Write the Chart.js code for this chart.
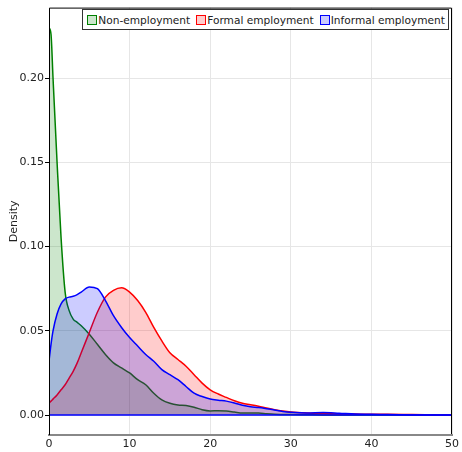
<!DOCTYPE html>
<html>
<head>
<meta charset="utf-8">
<script src="https://cdn.jsdelivr.net/npm/chart.js@4/dist/chart.umd.min.js"></script>
<style>
  html, body { margin: 0; padding: 0; background: #fff; }
  #wrap { position: relative; width: 462px; height: 452px; }
  #legend {
    position: absolute; top: 9px; right: 13px; height: 19px;
    display: flex; align-items: center; padding: 0 3px 0 4px;
    border: 1.5px solid #333; background: #fff;
    font: 10.6px 'DejaVu Sans', sans-serif; color: #222; white-space: nowrap;
  }
  .item { display: flex; align-items: center; margin-right: 6px; }
  .item:last-child { margin-right: 0; }
  .swatch { width: 8px; height: 8px; border: 1.5px solid; margin-right: 1px; }
</style>
</head>
<body>
<div id="wrap">
  <canvas id="densityChart" width="462" height="452"></canvas>
  <div id="legend"></div>
</div>
<script>
// data
var xGrid = [0, 0.25, 0.5, 1, 1.5, 2, 2.5, 3, 3.5, 4, 5, 6, 7, 8, 9, 10, 11, 12, 13, 14, 15, 16, 17, 18, 19, 20,
             21, 22, 23, 24, 25, 26, 27, 28, 29, 30, 32, 34, 36, 38, 40, 42, 45, 50];
var nonEmployment = [0.230, 0.226, 0.200, 0.150, 0.105, 0.073, 0.062, 0.057, 0.055, 0.053, 0.048, 0.042, 0.036, 0.031, 0.028, 0.025,
                     0.021, 0.018, 0.013, 0.009, 0.007, 0.006, 0.0057, 0.0047, 0.0032, 0.0025,
                     0.0026, 0.0024, 0.0018, 0.0012, 0.0012, 0.0012, 0.0008, 0.0005, 0.0004, 0.0003, 0.0002, 0.0001, 0.0001, 0.0001, 0, 0, 0, 0];
var formalEmployment = [0.007, 0.0083, 0.0095, 0.012, 0.015, 0.018, 0.022, 0.026, 0.031, 0.037, 0.049, 0.061, 0.070, 0.074, 0.0755, 0.073,
                        0.068, 0.061, 0.052, 0.044, 0.037, 0.033, 0.029, 0.024, 0.019, 0.015,
                        0.0125, 0.0105, 0.0085, 0.007, 0.0062, 0.0053, 0.0042, 0.0032, 0.0024, 0.0018, 0.0012, 0.0009, 0.0007, 0.0006, 0.0005, 0.0005, 0.0003, 0];
var informalEmployment = [0.032, 0.042, 0.050, 0.060, 0.066, 0.069, 0.070, 0.0705, 0.0715, 0.073, 0.076, 0.075, 0.068, 0.059, 0.052, 0.046,
                          0.041, 0.036, 0.032, 0.027, 0.024, 0.021, 0.017, 0.013, 0.011, 0.0095,
                          0.0088, 0.0083, 0.0072, 0.0058, 0.0049, 0.0045, 0.0038, 0.003, 0.0022, 0.0017, 0.0013, 0.0015, 0.0011, 0.0006, 0.0005, 0.0003, 0.0001, 0];
var baselineX = [0, 50];
var baseline = [0, 0];
var seriesNames = ['Non-employment', 'Formal employment', 'Informal employment'];
var xTicks = [0, 10, 20, 30, 40, 50];
var yTicks = [0, 0.05, 0.10, 0.15, 0.20];

function toPoints(xs, ys) {
    return xs.map(function (x, i) { return { x: x, y: ys[i] }; });
}

function densitySet(label, values, color, fillColor, order) {
    return {
        label: label,
        data: toPoints(xGrid, values),
        borderColor: color,
        backgroundColor: fillColor,
        borderWidth: 1.5,
        pointRadius: 0,
        fill: 'origin',
        cubicInterpolationMode: 'monotone',
        order: order
    };
}

var framePlugin = {
    id: 'frame',
    afterDraw: function (chart) {
        var ctx = chart.ctx, a = chart.chartArea;
        ctx.save();
        ctx.strokeStyle = '#000';
        ctx.lineWidth = 1;
        ctx.beginPath();
        ctx.moveTo(a.left + 0.5, a.bottom);
        ctx.lineTo(a.left + 0.5, a.top + 0.5);
        ctx.lineTo(a.right - 0.5, a.top + 0.5);
        ctx.lineTo(a.right - 0.5, a.bottom - 1);
        ctx.stroke();
        ctx.restore();
    }
};

var ctx = document.getElementById('densityChart').getContext('2d');
var chart = new Chart(ctx, {
    type: 'line',
    data: {
        datasets: [
            densitySet(seriesNames[0], nonEmployment, 'green', 'rgba(0, 128, 0, 0.2)', 3),
            densitySet(seriesNames[1], formalEmployment, 'red', 'rgba(255, 0, 0, 0.2)', 2),
            densitySet(seriesNames[2], informalEmployment, 'blue', 'rgba(0, 0, 255, 0.2)', 1),
            {
                label: '',
                data: toPoints(baselineX, baseline),
                borderColor: 'blue',
                borderWidth: 1.5,
                pointRadius: 0,
                fill: false,
                order: 0
            }
        ]
    },
    options: {
        responsive: false,
        animation: false,
        layout: { padding: { top: 4, right: 9, left: 0, bottom: 0 } },
        plugins: {
            legend: { display: false },
            tooltip: { enabled: false }
        },
        scales: {
            x: {
                type: 'linear',
                min: 0,
                max: 50,
                afterBuildTicks: function (scale) {
                    scale.ticks = xTicks.map(function (v) { return { value: v }; });
                },
                afterFit: function (scale) { scale.height = 17; },
                ticks: { padding: 3, color: '#222', font: { family: 'DejaVu Sans', size: 11 }, maxRotation: 0 },
                grid: { color: '#e6e6e6', drawTicks: false },
                border: { color: '#888', width: 2 }
            },
            y: {
                min: -0.0118,
                max: 0.2418,
                afterBuildTicks: function (scale) {
                    scale.ticks = yTicks.map(function (v) { return { value: v }; });
                },
                afterFit: function (scale) { scale.width = 49; },
                ticks: {
                    padding: 1,
                    color: '#222',
                    font: { family: 'DejaVu Sans', size: 11 },
                    callback: function (v) { return v.toFixed(2); }
                },
                grid: { color: '#e6e6e6', tickLength: 4, tickColor: '#000' },
                border: { display: false },
                title: {
                    display: true,
                    text: 'Density',
                    color: '#222',
                    padding: { top: 8, bottom: 0 },
                    font: { family: 'DejaVu Sans', size: 11 }
                }
            }
        }
    },
    plugins: [framePlugin]
});

// legend drawn as html inside the plot
var legendEl = document.getElementById('legend');
chart.data.datasets.forEach(function (ds) {
    if (!ds.label) return;
    var item = document.createElement('div');
    item.className = 'item';
    var sw = document.createElement('span');
    sw.className = 'swatch';
    sw.style.borderColor = ds.borderColor;
    sw.style.background = ds.backgroundColor;
    var txt = document.createElement('span');
    txt.textContent = ds.label;
    item.appendChild(sw);
    item.appendChild(txt);
    legendEl.appendChild(item);
});
</script>
</body>
</html>
